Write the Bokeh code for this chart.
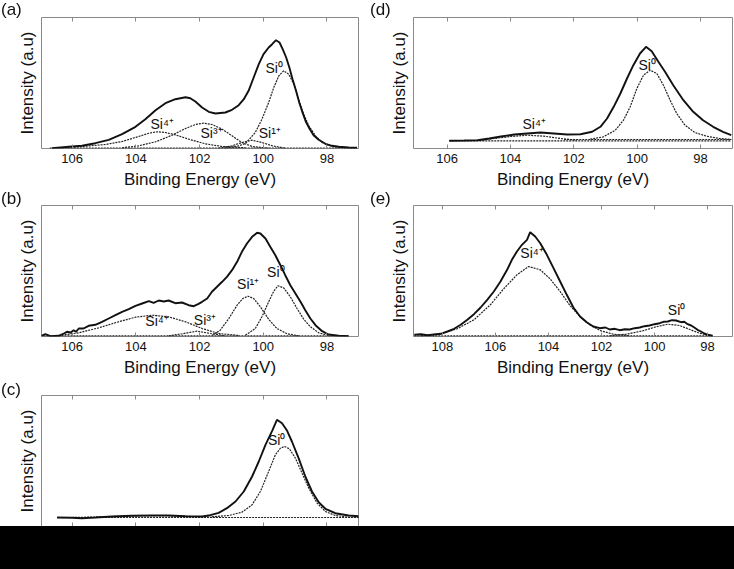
from bokeh.plotting import figure
from bokeh.models import Range1d, LinearAxis, FixedTicker, Label, Div, CustomJSTickFormatter
from bokeh.layouts import column, row
from bokeh.embed import file_html
from bokeh.resources import INLINE

FONT = "Liberation Sans"
GRAY = "#8a8a8a"
INK = "#111111"
DOT = "#222222"

TICKS_AD = [106, 104, 102, 100, 98]
TICKS_E = [108, 106, 104, 102, 100, 98]
PANEL_LETTERS = ["(a)", "(b)", "(c)", "(d)", "(e)"]

# ---------------- panel (a) ----------------
A_ENV_X = [106.63, 106.10, 105.69, 105.27, 104.85, 104.43, 104.01, 103.70, 103.38, 103.07, 102.76, 102.44, 102.29, 102.13,
           101.92, 101.71, 101.50, 101.19, 100.98, 100.77, 100.61, 100.46, 100.30, 100.14, 99.99, 99.83, 99.72, 99.60,
           99.49, 99.39, 99.28, 99.18, 99.08, 98.97, 98.87, 98.76, 98.66, 98.55, 98.42, 98.26, 98.05, 97.84, 97.63,
           97.32, 97.06]
A_ENV_Y = [0.3, 1.7, 2.7, 5.3, 8.7, 14.3, 21.7, 29.3, 38.3, 45.3, 49.3, 51.3, 50.3, 47.0,
           41.0, 36.7, 35.0, 36.0, 38.7, 43.3, 49.3, 57.7, 71.0, 84.3, 94.3, 101.0, 104.3, 108.3,
           106.0, 99.3, 91.0, 81.0, 69.3, 57.7, 46.0, 35.3, 26.7, 20.0, 13.3, 8.7, 4.7, 2.7, 1.7,
           1.0, 0.7]
A_SI0_X = [101.19, 100.77, 100.56, 100.25, 100.04, 99.83, 99.67, 99.51, 99.36, 99.20, 99.04, 98.89, 98.73, 98.57,
           98.36, 98.15, 97.84, 97.42, 97.06]
A_SI0_Y = [0.3, 2.7, 5.0, 16.0, 29.3, 46.0, 61.0, 72.7, 77.7, 74.3, 64.3, 49.3, 34.3, 22.7,
           12.7, 6.0, 2.0, 0.7, 0.3]
A_SI4_X = [106.42, 105.79, 104.95, 104.43, 103.91, 103.59, 103.33, 103.07, 102.76, 102.34, 101.82, 101.29, 100.56]
A_SI4_Y = [0.7, 1.7, 4.0, 7.0, 12.0, 15.3, 16.7, 16.0, 13.7, 9.3, 4.7, 2.0, 0.7]
A_SI3_X = [104.43, 103.91, 103.38, 102.86, 102.44, 102.13, 101.87, 101.61, 101.29, 100.98, 100.67, 100.35, 99.83]
A_SI3_Y = [0.7, 2.7, 6.7, 13.3, 20.0, 24.0, 25.3, 24.0, 19.3, 12.7, 6.0, 2.0, 0.3]
A_SI1_X = [101.40, 100.98, 100.67, 100.35, 100.04, 99.72, 99.31]
A_SI1_Y = [0.3, 2.7, 6.0, 8.3, 6.0, 2.7, 0.3]
A_BASE_X = [106.70, 97.05]
A_BASE_Y = [0.5, 0.5]

# ---------------- panel (b) ----------------
B_ENV_X = [106.99, 106.84, 106.68, 106.42, 106.26, 106.16, 106.05, 105.95, 105.88, 105.79, 105.64, 105.48, 105.27,
           105.06, 104.85, 104.64, 104.43, 104.22, 104.01, 103.80, 103.59, 103.44, 103.28, 103.12, 102.97, 102.76,
           102.55, 102.34, 102.18, 102.03, 101.92, 101.76, 101.61, 101.45, 101.29, 101.14, 100.98, 100.82, 100.67,
           100.51, 100.35, 100.19, 100.09, 99.93, 99.78, 99.62, 99.46, 99.31, 99.15, 98.99, 98.83, 98.68, 98.52,
           98.36, 98.15, 97.95, 97.63, 97.32]
B_ENV_Y = [0.3, 2.3, 0.3, 0.7, 3.0, 4.7, 4.0, 6.3, 4.7, 8.0, 8.0, 10.7, 11.7,
           14.7, 18.0, 21.3, 24.7, 27.3, 30.7, 33.0, 35.3, 33.7, 36.0, 35.0, 36.0, 33.3,
           34.0, 31.3, 30.3, 32.7, 34.7, 38.0, 44.7, 49.7, 54.7, 59.7, 66.3, 74.7, 84.7,
           93.0, 99.7, 103.7, 103.0, 98.0, 89.7, 81.3, 71.3, 61.3, 51.3, 43.0, 34.7, 26.3, 18.0,
           11.3, 5.3, 2.0, 0.7, 0.3]
B_SI0_X = [100.56, 100.25, 100.04, 99.83, 99.67, 99.54, 99.36, 99.15, 98.94, 98.73, 98.52, 98.26, 97.95]
B_SI0_Y = [1.3, 8.0, 19.7, 34.7, 45.3, 50.7, 48.7, 39.7, 28.0, 17.3, 9.7, 3.7, 1.0]
B_SI1_X = [101.61, 101.35, 101.08, 100.82, 100.64, 100.48, 100.30, 100.09, 99.83, 99.57, 99.25, 98.89]
B_SI1_Y = [1.0, 6.3, 18.0, 31.3, 38.0, 40.3, 38.0, 29.7, 17.3, 8.0, 2.7, 0.7]
B_SI3_X = [102.97, 102.55, 102.08, 101.66, 101.19]
B_SI3_Y = [0.7, 2.7, 5.3, 3.0, 0.7]
B_SI4_X = [106.42, 105.79, 105.16, 104.54, 104.01, 103.49, 102.97, 102.44, 101.92, 101.40, 100.77]
B_SI4_Y = [1.0, 3.7, 8.7, 14.7, 19.3, 21.3, 19.7, 14.7, 8.0, 3.0, 1.0]
B_BASE_X = [106.90, 97.30]
B_BASE_Y = [0.7, 0.7]

# ---------------- panel (c) ----------------
C_ENV_X = [106.47, 106.00, 105.69, 105.27, 104.74, 104.12, 103.49, 102.97, 102.44, 101.92, 101.66, 101.40, 101.14,
           100.87, 100.61, 100.35, 100.14, 99.93, 99.72, 99.57, 99.41, 99.25, 99.10, 98.89, 98.68, 98.47, 98.26,
           98.05, 97.74, 97.32, 97.00]
C_ENV_Y = [9.0, 8.7, 8.3, 9.0, 10.0, 10.7, 11.0, 11.0, 10.3, 10.0, 11.3, 13.7, 18.3,
           25.0, 35.0, 50.0, 65.0, 81.7, 95.7, 106.7, 103.3, 95.7, 85.0, 68.3, 50.0, 35.0, 24.3,
           17.7, 13.3, 11.0, 10.3]
C_SI0_X = [101.61, 101.08, 100.67, 100.35, 100.09, 99.83, 99.62, 99.46, 99.33, 99.18, 98.99, 98.78, 98.57, 98.31,
           98.05, 97.74, 97.32, 97.00]
C_SI0_Y = [9.7, 11.0, 14.3, 21.7, 35.0, 55.0, 71.7, 78.3, 80.0, 77.7, 68.3, 53.3, 38.3, 23.3,
           15.0, 11.0, 9.3, 9.0]
C_SI4_X = [106.0, 105.0, 104.0, 103.3, 102.5, 101.8, 101.3]
C_SI4_Y = [9.0, 9.7, 10.7, 11.0, 10.3, 9.3, 9.0]
C_BASE_X = [106.47, 97.00]
C_BASE_Y = [9.0, 9.0]

# ---------------- panel (d) ----------------
D_ENV_X = [105.93, 105.46, 105.04, 104.67, 104.30, 103.88, 103.47, 103.05, 102.63, 102.21, 101.79, 101.42, 101.16,
           100.95, 100.74, 100.53, 100.32, 100.12, 99.91, 99.72, 99.54, 99.33, 99.12, 98.86, 98.54, 98.23, 97.92,
           97.60, 97.29, 97.03]
D_ENV_Y = [7.7, 8.0, 8.3, 10.0, 12.0, 14.0, 15.0, 16.0, 15.0, 14.0, 14.3, 16.7, 21.7,
           30.0, 41.7, 55.0, 70.0, 83.3, 95.0, 101.7, 97.3, 86.7, 76.7, 63.3, 48.3, 36.7, 28.3,
           21.7, 16.7, 13.3]
D_SI0_X = [101.48, 101.06, 100.69, 100.43, 100.22, 100.01, 99.80, 99.59, 99.38, 99.17, 98.96, 98.75, 98.49, 98.18,
           97.81, 97.39, 97.03]
D_SI0_Y = [9.3, 11.7, 18.3, 28.3, 41.7, 60.0, 73.3, 78.3, 75.0, 63.3, 48.3, 35.0, 23.3, 16.0,
           12.3, 10.0, 9.0]
D_SI4_X = [105.04, 104.51, 103.99, 103.47, 102.94, 102.42, 101.90]
D_SI4_Y = [8.0, 10.0, 12.0, 13.3, 12.3, 10.0, 8.3]
D_BASE_X = [105.93, 97.03]
D_BASE_Y = [7.7, 7.7]
D_BASE2_X = [102.30, 97.03]
D_BASE2_Y = [9.0, 9.0]

# ---------------- panel (e) ----------------
E_ENV_X = [109.06, 108.81, 108.56, 108.31, 108.06, 107.81, 107.56, 107.31, 107.06, 106.81, 106.56, 106.31, 106.06,
           105.81, 105.56, 105.38, 105.19, 105.00, 104.81, 104.69, 104.50, 104.31, 104.06, 103.81, 103.56, 103.31,
           103.06, 102.81, 102.56, 102.31, 102.06, 101.85, 101.69, 101.50, 101.31, 101.12, 100.94, 100.75, 100.56,
           100.38, 100.19, 100.00, 99.81, 99.66, 99.50, 99.34, 99.19, 99.00, 98.88, 98.75, 98.62, 98.50, 98.38,
           98.25, 98.12, 98.00, 97.81]
E_ENV_Y = [1.7, 2.3, 1.3, 2.0, 2.7, 5.0, 7.7, 11.7, 16.7, 22.3, 29.0, 36.7, 45.0,
           55.0, 66.7, 76.7, 85.0, 91.7, 96.7, 104.3, 100.0, 93.3, 81.7, 68.3, 55.0, 41.7,
           29.0, 20.0, 14.3, 10.0, 8.3, 9.0, 7.0, 7.7, 6.3, 7.3, 7.0, 8.3, 9.0,
           10.3, 11.0, 12.3, 13.3, 14.7, 15.0, 16.3, 16.0, 14.3, 14.7, 12.3, 11.0, 9.0, 6.7,
           5.0, 3.0, 1.7, 0.7]
E_SI4_X = [108.81, 108.06, 107.44, 106.81, 106.19, 105.69, 105.19, 104.75, 104.31, 103.94, 103.56, 103.19, 102.81,
           102.44, 102.06, 101.56, 100.94]
E_SI4_Y = [0.7, 2.7, 7.7, 16.7, 31.7, 47.7, 61.7, 70.0, 66.7, 57.7, 45.0, 31.0, 20.0,
           11.7, 6.0, 2.3, 0.7]
E_SI0_X = [101.69, 101.06, 100.44, 99.94, 99.50, 99.06, 98.69, 98.31, 97.88]
E_SI0_Y = [0.7, 2.3, 5.7, 9.7, 12.3, 11.0, 7.3, 3.3, 1.0]
E_BASE_X = [109.06, 97.81]
E_BASE_Y = [0.7, 0.7]

Y_TOP = 131
EMPTY = CustomJSTickFormatter(code="return ''")


def panel(w, h, xr, ticks, mbl, mbr, mbt, mbb, xlabels=True):
    p = figure(width=w, height=h, x_range=Range1d(*xr), y_range=Range1d(0, Y_TOP),
               output_backend="svg", toolbar_location=None,
               min_border_left=mbl, min_border_right=mbr, min_border_top=mbt, min_border_bottom=mbb)
    p.xgrid.visible = False
    p.ygrid.visible = False
    p.outline_line_color = GRAY
    p.outline_line_width = 1
    p.background_fill_color = "white"
    p.border_fill_color = "white"

    xa = p.xaxis[0]
    xa.ticker = FixedTicker(ticks=ticks)
    xa.major_tick_in = 4
    xa.major_tick_out = 0
    xa.major_tick_line_color = GRAY
    xa.minor_tick_line_color = None
    xa.axis_line_color = None
    if xlabels:
        xa.axis_label = "Binding Energy (eV)"
        xa.axis_label_text_font = FONT
        xa.axis_label_text_font_size = "17px"
        xa.axis_label_text_font_style = "normal"
        xa.axis_label_text_color = INK
        xa.axis_label_standoff = 4
        xa.major_label_text_font = FONT
        xa.major_label_text_font_size = "13px"
        xa.major_label_text_color = INK
        xa.major_label_standoff = 5
    else:
        xa.formatter = EMPTY
        xa.major_label_standoff = 0
        xa.major_label_text_font_size = "1px"

    top = LinearAxis(ticker=FixedTicker(ticks=ticks), formatter=EMPTY,
                     major_tick_in=4, major_tick_out=0, major_tick_line_color=GRAY,
                     minor_tick_line_color=None, axis_line_color=None,
                     major_label_standoff=0, major_label_text_font_size="1px")
    p.add_layout(top, "above")

    ya = p.yaxis[0]
    ya.ticker = FixedTicker(ticks=[])
    ya.major_tick_line_color = None
    ya.minor_tick_line_color = None
    ya.axis_line_color = None
    ya.major_label_standoff = 0
    ya.axis_label = "Intensity (a.u)"
    ya.axis_label_text_font = FONT
    ya.axis_label_text_font_size = "17px"
    ya.axis_label_text_font_style = "normal"
    ya.axis_label_text_color = INK
    ya.axis_label_standoff = 5
    return p


def solid(p, x, y):
    p.line(x, y, line_color=INK, line_width=1.9)


def dotted(p, x, y):
    p.line(x, y, line_color=DOT, line_width=1.2, line_dash="2 1")


def tag(p, x, y, text):
    p.add_layout(Label(x=x, y=y, text=text, text_font=FONT, text_font_size="14px",
                       text_color=INK, text_align="left", text_baseline="middle"))


# ---- geometry (page has no margin: canvas coords == picture coords) ----
XR_AC = (106.96, 97.01)
XR_D = (107.06, 96.99)
XR_E = (109.09, 97.06)

# (a): canvas x 0-367, y 0-191
pa = panel(367, 191, XR_AC, TICKS_AD, 41, 9, 17, 43)
for xs, ys in [(A_BASE_X, A_BASE_Y), (A_SI4_X, A_SI4_Y), (A_SI3_X, A_SI3_Y), (A_SI1_X, A_SI1_Y), (A_SI0_X, A_SI0_Y)]:
    dotted(pa, xs, ys)
solid(pa, A_ENV_X, A_ENV_Y)
tag(pa, 99.93, 81, "Si⁰")
tag(pa, 103.54, 25, "Si⁴⁺")
tag(pa, 101.97, 16, "Si³⁺")
tag(pa, 100.14, 16, "Si¹⁺")

# (b): canvas y 191-381
pb = panel(367, 190, XR_AC, TICKS_AD, 41, 9, 14, 45)
for xs, ys in [(B_BASE_X, B_BASE_Y), (B_SI4_X, B_SI4_Y), (B_SI3_X, B_SI3_Y), (B_SI1_X, B_SI1_Y), (B_SI0_X, B_SI0_Y)]:
    dotted(pb, xs, ys)
solid(pb, B_ENV_X, B_ENV_Y)
tag(pb, 99.88, 64.7, "Si⁰")
tag(pb, 100.82, 53, "Si¹⁺")
tag(pb, 102.18, 16.3, "Si³⁺")
tag(pb, 103.70, 15.7, "Si⁴⁺")

# (c): canvas y 381-530 (lower part hidden by the black band)
pc = panel(367, 149, XR_AC, TICKS_AD, 41, 9, 14, 4, xlabels=False)
for xs, ys in [(C_BASE_X, C_BASE_Y), (C_SI4_X, C_SI4_Y), (C_SI0_X, C_SI0_Y)]:
    dotted(pc, xs, ys)
solid(pc, C_ENV_X, C_ENV_Y)
tag(pc, 99.85, 86.7, "Si⁰")

# (d): canvas x 367-734
pd = panel(367, 191, XR_D, TICKS_AD, 46, 2, 17, 43)
for xs, ys in [(D_BASE_X, D_BASE_Y), (D_BASE2_X, D_BASE2_Y), (D_SI4_X, D_SI4_Y), (D_SI0_X, D_SI0_Y)]:
    dotted(pd, xs, ys)
solid(pd, D_ENV_X, D_ENV_Y)
tag(pd, 103.62, 25, "Si⁴⁺")
tag(pd, 99.96, 83.3, "Si⁰")

# (e)
pe = panel(367, 190, XR_E, TICKS_E, 46, 2, 14, 45)
for xs, ys in [(E_BASE_X, E_BASE_Y), (E_SI4_X, E_SI4_Y), (E_SI0_X, E_SI0_Y)]:
    dotted(pe, xs, ys)
solid(pe, E_ENV_X, E_ENV_Y)
tag(pe, 105.06, 83.3, "Si⁴⁺")
tag(pe, 99.50, 26.7, "Si⁰")

# panel letters and the black band at the bottom of the picture
LETTER_POS = [(1, 0), (1, 189), (1, 380), (370, 0), (370, 189)]
letters_html = "".join(
    f'<div style="position:fixed;left:{lx}px;top:{ly}px;font-family:\'Liberation Sans\';'
    f'font-size:17px;line-height:19px;color:{INK};white-space:nowrap;z-index:50">{t}</div>'
    for t, (lx, ly) in zip(PANEL_LETTERS, LETTER_POS))
band_html = ('<div style="position:fixed;left:0;top:526px;width:734px;height:43px;'
             'background:#000;z-index:1000"></div>')
overlay = Div(text=letters_html + band_html, width=10, height=1)

layout = column(row(pa, pd), row(pb, pe), pc, overlay)

open("out.html", "w").write(file_html(layout, INLINE))
